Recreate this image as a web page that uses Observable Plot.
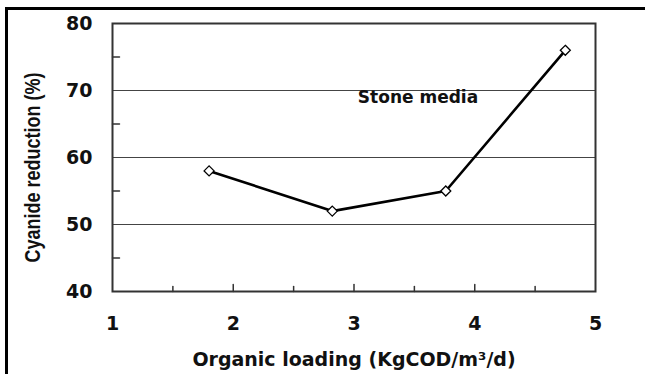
<!DOCTYPE html>
<html><head><meta charset="utf-8">
<script src="https://cdn.jsdelivr.net/npm/d3@7"></script>
<script src="https://cdn.jsdelivr.net/npm/@observablehq/plot@0.6"></script>
<style>
body{margin:0;background:#fff;}
#wrap{position:relative;width:645px;height:374px;overflow:hidden;}
#wrap::before{content:"";position:absolute;left:5px;top:7px;right:0;height:3px;background:#000;}
#wrap::after{content:"";position:absolute;left:5px;top:7px;bottom:0;width:3px;background:#000;}
#wrap svg{position:absolute;left:0;top:0;}
</style></head><body><div id="wrap"></div>
<script>
// Data
const loading = [1.80, 2.82, 3.76, 4.75];
const reduction = [58, 52, 55, 76];
const xTicks = [1, 2, 3, 4, 5];
const yTicks = [40, 50, 60, 70, 80];
const gridValues = [50, 60, 70];
const xMinorTicks = [1.5, 2.5, 3.5, 4.5];
const xMajorTicks = [2, 3, 4];
const yMinorTicks = [45, 55, 65, 75];
const annotationText = ["Stone media"];
const annotationX = [3.53];
const annotationY = [69];
const xTitle = "Organic loading (KgCOD/m³/d)";
const yTitle = "Cyanide reduction (%)";

const points = loading.map((x, i) => ({x, y: reduction[i]}));
const notes = annotationText.map((t, i) => ({text: t, x: annotationX[i], y: annotationY[i]}));
const spike = {draw(ctx, l) { ctx.moveTo(0, 0); ctx.lineTo(0, -l); }};

const chart = Plot.plot({
  width: 645,
  height: 374,
  marginLeft: 112,
  marginRight: 50,
  marginTop: 23,
  marginBottom: 83,
  style: {fontFamily: "DejaVu Sans, sans-serif", background: "transparent"},
  x: {domain: [xTicks[0], xTicks[xTicks.length - 1]]},
  y: {domain: [yTicks[0], yTicks[yTicks.length - 1]]},
  marks: [
    Plot.ruleY(gridValues, {stroke: "#444", strokeWidth: 1.2}),
    Plot.vector(xMinorTicks, {x: d => d, y: () => yTicks[0], length: 5, rotate: 0, anchor: "start", shape: spike, stroke: "#333", strokeWidth: 1.5}),
    Plot.vector(xMajorTicks, {x: d => d, y: () => yTicks[0], length: 7, rotate: 0, anchor: "start", shape: spike, stroke: "#333", strokeWidth: 1.5}),
    Plot.vector(yMinorTicks, {x: () => xTicks[0], y: d => d, length: 7, rotate: 90, anchor: "start", shape: spike, stroke: "#333", strokeWidth: 1.5}),
    Plot.frame({stroke: "#333", strokeWidth: 2}),
    Plot.axisX({ticks: xTicks, tickSize: 0, tickPadding: 25, fontSize: 19, fontWeight: "bold", label: null, tickFormat: d => String(d), fill: "#111"}),
    Plot.axisY({ticks: yTicks, tickSize: 0, tickPadding: 20, fontSize: 19, fontWeight: "bold", label: null, tickFormat: d => String(d), fill: "#111"}),
    Plot.line(points, {x: "x", y: "y", stroke: "#000", strokeWidth: 2.6}),
    Plot.dot(points, {x: "x", y: "y", symbol: "diamond2", r: 4.5, fill: "#fff", stroke: "#000", strokeWidth: 1.3}),
    Plot.text(notes, {x: "x", y: "y", text: "text", fontSize: 17, fontWeight: "bold", fill: "#111"}),
    Plot.text([xTitle], {frameAnchor: "bottom", lineAnchor: "middle", dy: 68, fontSize: 19, fontWeight: "bold", fill: "#111"}),
    Plot.text([yTitle], {frameAnchor: "left", lineAnchor: "middle", textAnchor: "middle", rotate: -90, dx: -79, dy: 10, fontSize: 18, fontWeight: "bold", fill: "#111", fontFamily: "Liberation Sans, Arial, sans-serif"})
  ]
});
// widen the rotated title's glyphs like the reference (horizontally stretched print)
d3.select(chart).selectAll("text").filter(function() { return this.textContent === yTitle; })
  .attr("transform", function() { return (this.getAttribute("transform") || "") + " scale(1,1.2)"; });
document.getElementById("wrap").appendChild(chart);
</script>
</body></html>
